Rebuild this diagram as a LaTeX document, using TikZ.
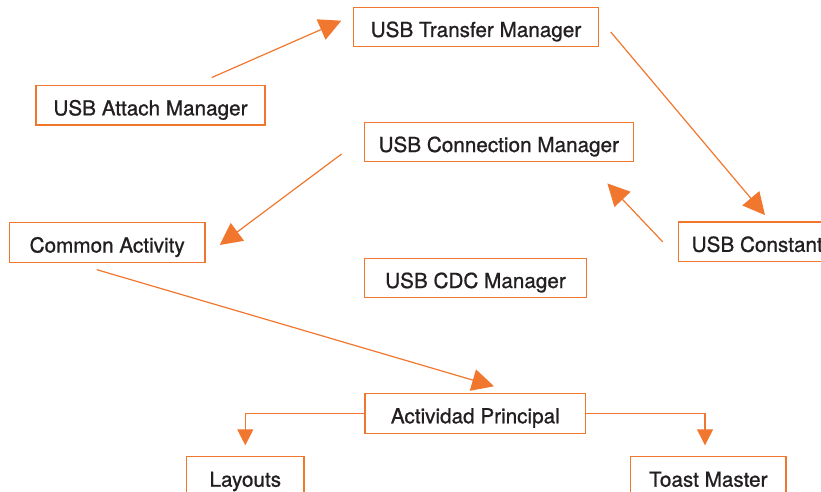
\documentclass[tikz,border=0pt]{standalone}
\usepackage{fontspec}
\setmainfont{TeX Gyre Heros}[FakeBold=0.9]
\usetikzlibrary{arrows.meta}
\definecolor{flow}{RGB}{241,118,46}
\definecolor{ink}{RGB}{35,31,32}
\begin{document}
\begin{tikzpicture}[x=1pt,y=-1pt,
  box/.style={draw=flow, line width=1.4pt, fill=white, text=ink, inner sep=0pt,
    minimum height=39.5pt, text height=20pt, text depth=0pt,
    font=\fontsize{20.7}{24}\selectfont},
  link/.style={draw=flow, line width=1.2pt, -{Triangle[length=22pt,width=22pt]}},
  elbow/.style={draw=flow, line width=1.2pt, -{Triangle[length=16pt,width=16pt]}}]
\useasboundingbox (0,0) rectangle (821,492);
\clip (0,0) rectangle (821,492);

% modules
\node[box, minimum width=245.5pt] (transfer)   at (476,27)      {USB Transfer Manager};
\node[box, minimum width=229pt]   (attach)     at (150.5,105.4) {USB Attach Manager};
\node[box, minimum width=269pt]   (connection) at (498.8,142)   {USB Connection Manager};
\node[box, minimum width=195.7pt] (common)     at (107.2,242.5) {Common Activity};
\node[box, minimum width=222.4pt] (cdc)        at (475.5,278)   {USB CDC Manager};
\node[box, minimum width=168pt, anchor=west] (constant) at (677.7,241.85) {USB Constant\hphantom{s}};
\node[box, minimum width=220.7pt, minimum height=40pt] (actividad) at (475.3,413.3) {Actividad Principal};
\node[box, minimum width=117.3pt, minimum height=40pt] (layouts)   at (245.3,476.7) {Layouts};
\node[box, minimum width=155.3pt, minimum height=40pt] (toast)     at (708.3,476.7) {Toast Master};

% flow between modules
\draw[link] ([xshift=61.2pt,yshift=7.4pt]attach.north) -- ([xshift=-11.3pt,yshift=6.3pt]transfer.west);
\draw[link] ([xshift=11.3pt,yshift=-5pt]transfer.east) -- ([xshift=87.3pt,yshift=6.3pt]constant.north west);
\draw[link] ([xshift=-15pt]constant.west) -- ([xshift=-26.6pt,yshift=-21pt]connection.south east);
\draw[link] ([xshift=-22pt,yshift=-12pt]connection.west) -- ([xshift=14pt,yshift=-2.5pt]common.east);
\draw[link] ([xshift=-10.5pt,yshift=-6.7pt]common.south) -- ([xshift=18.7pt,yshift=6.3pt]actividad.north);

% main activity branches
\draw[elbow] (actividad.west) -| ([yshift=10.7pt]layouts.north);
\draw[elbow] (actividad.east) -| ([xshift=-3.3pt,yshift=10.7pt]toast.north);
\end{tikzpicture}
\end{document}
